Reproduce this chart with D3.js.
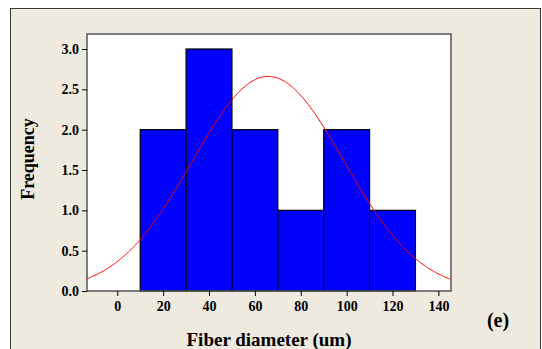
<!DOCTYPE html>
<html><head><meta charset="utf-8">
<script src="https://cdn.jsdelivr.net/npm/d3@7"></script>
<style>body{margin:0;background:#fff}svg{display:block}</style>
</head><body>
<svg id="c" width="542" height="349"></svg>
<script>
const binStarts = [10, 30, 50, 70, 90, 110];
const binWidth = 20;
const frequencies = [2, 3, 2, 1, 2, 1];
const xTicks = [0, 20, 40, 60, 80, 100, 120, 140];
const yTicks = [0, 0.5, 1.0, 1.5, 2.0, 2.5, 3.0];
const fitMean = 65.8;
const fitSd = 33;
const fitN = 11;

const svg = d3.select('#c');
svg.append('rect').attr('x', 10.5).attr('y', 8.5).attr('width', 530).attr('height', 360)
  .attr('fill', '#eeeae0').attr('stroke', '#3a3a3a');

const L = 87, R = 451, T = 34, B = 291;
const x = d3.scaleLinear().domain([-13.2, 145.5]).range([L, R]);
const y = d3.scaleLinear().domain([0, 3.0]).range([B, 49]);

svg.append('rect').attr('x', L).attr('y', T).attr('width', R - L).attr('height', B - T).attr('fill', '#fff');

svg.append('g').selectAll('rect').data(binStarts).join('rect')
  .attr('x', (d) => x(d)).attr('width', x(binWidth) - x(0))
  .attr('y', (d, i) => y(frequencies[i])).attr('height', (d, i) => y(0) - y(frequencies[i]))
  .attr('fill', '#0000ff').attr('stroke', '#000').attr('stroke-width', 1.2);

const pts = d3.range(-13.2, 145.6, 0.5).map(v => [v, fitN * binWidth / (fitSd * Math.sqrt(2 * Math.PI)) * Math.exp(-((v - fitMean) ** 2) / (2 * fitSd * fitSd))]);
svg.append('path').datum(pts).attr('fill', 'none').attr('stroke', '#ff0000').attr('stroke-width', 1)
  .attr('d', d3.line().x(d => x(d[0])).y(d => y(d[1])));

svg.append('rect').attr('x', L).attr('y', T).attr('width', R - L).attr('height', B - T)
  .attr('fill', 'none').attr('stroke', '#555').attr('stroke-width', 1.5);

const font = '"Liberation Serif","Times New Roman",serif';
const xa = svg.append('g').attr('transform', `translate(0,${B})`)
  .call(d3.axisBottom(x).tickValues(xTicks).tickSize(5).tickPadding(5).tickFormat(d3.format('d')));
const ya = svg.append('g').attr('transform', `translate(${L},0)`)
  .call(d3.axisLeft(y).tickValues(yTicks).tickSize(5).tickPadding(3).tickFormat(d3.format('.1f')));
[xa, ya].forEach(a => {
  a.select('.domain').remove();
  a.selectAll('line').attr('stroke', '#000');
  a.selectAll('text').attr('font-family', font).attr('font-weight', 'bold').attr('font-size', 14).attr('fill', '#000');
});

svg.append('text').attr('x', 269).attr('y', 346).attr('text-anchor', 'middle')
  .attr('font-family', font).attr('font-weight', 'bold').attr('font-size', 19).text('Fiber diameter (um)');
svg.append('text').attr('transform', 'translate(34,159) rotate(-90)').attr('text-anchor', 'middle')
  .attr('font-family', font).attr('font-weight', 'bold').attr('font-size', 18).text('Frequency');
svg.append('text').attr('x', 498).attr('y', 327).attr('text-anchor', 'middle')
  .attr('font-family', font).attr('font-weight', 'bold').attr('font-size', 20).text('(e)');
</script>
</body></html>
